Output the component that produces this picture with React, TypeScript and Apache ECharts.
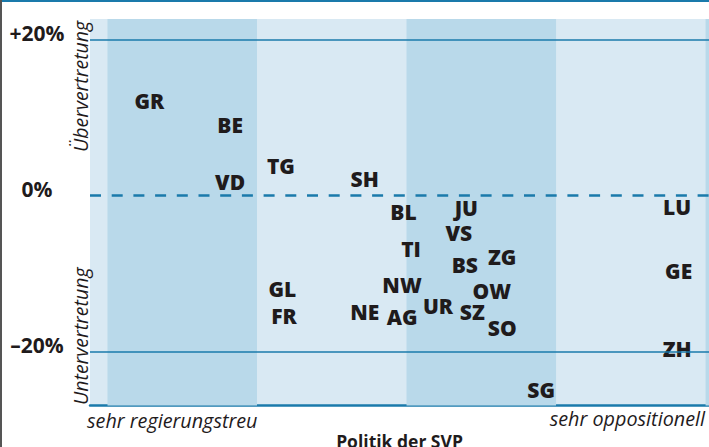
import React, { useEffect, useRef } from "react";
import * as echarts from "echarts";

// Kantone und ihre Position: x = Politik der SVP (Skala), y = Über-/Untervertretung in %
const kantone = ["GR", "BE", "VD", "TG", "SH", "BL", "JU", "LU", "VS", "TI", "BS", "ZG", "GE", "NW", "OW", "NE", "AG", "UR", "SZ", "SO", "ZH", "SG", "GL", "FR"];
const politik = [0.78, 1.32, 1.32, 1.66, 2.22, 2.48, 2.9, 4.31, 2.85, 2.53, 2.89, 3.14, 4.32, 2.47, 3.07, 2.22, 2.47, 2.71, 2.94, 3.14, 4.31, 3.4, 1.67, 1.68];
const vertretung = [12.16, 9.01, 1.82, 3.75, 2.08, -2.09, -1.58, -1.45, -4.85, -6.84, -8.9, -7.87, -9.73, -11.46, -12.17, -14.93, -15.51, -14.1, -14.93, -16.92, -19.74, -24.88, -12.04, -15.38];

const yTicks = [20, 0, -20];
const yTickLabels = ["+20%", "0%", "–20%"];
const dunkleBaender: [number, number][] = [[0.5, 1.5], [2.5, 3.5], [4.5, 4.523]];
const skalaEnden = ["sehr regierungstreu", "sehr oppositionell"];
const achsenNamen = ["Übervertretung", "Untervertretung"];
const xTitel = "Politik der SVP";

const X_MIN = 0.383;
const X_MAX = 4.523;
const Y_MIN = -26.93;
const Y_MAX = 22.68;

const LINE = "#1a7aab";
const TEXT = "#1f1b1c";
const FONT = "'Open Sans', 'Noto Sans', sans-serif";

export default function App() {
  const ref = useRef<HTMLDivElement>(null);
  useEffect(() => {
    document.body.style.margin = "0";
    if (!ref.current) return;
    const chart = echarts.init(ref.current, null, { renderer: "svg" });
    const data = kantone.map((k, i) => [politik[i], vertretung[i], k]);
    chart.setOption({
      animation: false,
      grid: {
        left: 90,
        right: 0,
        top: 19,
        bottom: 41.5,
        show: true,
        containLabel: false,
        outerBoundsMode: "none",
        backgroundColor: "#d9e9f3",
        borderWidth: 0,
      },
      xAxis: {
        type: "value",
        min: X_MIN,
        max: X_MAX,
        axisLine: { show: true, onZero: false, lineStyle: { color: LINE, width: 2.5 } },
        axisTick: { show: false },
        axisLabel: { show: false },
        splitLine: { show: false },
        name: xTitel,
        nameLocation: "middle",
        nameGap: 26,
        nameTextStyle: { fontFamily: FONT, fontWeight: "bold", fontSize: 17.5, color: TEXT, verticalAlign: "top" },
      },
      yAxis: {
        type: "value",
        min: Y_MIN,
        max: Y_MAX,
        axisLine: { show: false },
        axisTick: { show: false },
        splitLine: { show: false },
        axisLabel: {
          customValues: yTicks,
          formatter: (v: number) => yTickLabels[yTicks.indexOf(v)] ?? "",
          fontFamily: FONT,
          fontWeight: "bold",
          fontSize: 21,
          color: TEXT,
          margin: 53,
          align: "center",
          verticalAlign: "bottom",
          lineHeight: 14,
        },
      },
      graphic: [
        { type: "rect", shape: { x: 0, y: 0, width: 709, height: 2 }, style: { fill: LINE }, z: 100 },
        { type: "rect", shape: { x: 0, y: 0, width: 2, height: 447 }, style: { fill: "#555" }, z: 100 },
        {
          type: "text",
          x: 90,
          y: 152,
          rotation: Math.PI / 2,
          style: { text: achsenNamen[0], font: `italic 19.5px ${FONT}`, fill: TEXT, textAlign: "left", textVerticalAlign: "bottom" },
          z: 100,
        },
        {
          type: "text",
          x: 90,
          y: 405,
          rotation: Math.PI / 2,
          style: { text: achsenNamen[1], font: `italic 19.5px ${FONT}`, fill: TEXT, textAlign: "left", textVerticalAlign: "bottom" },
          z: 100,
        },
        {
          type: "text",
          x: 87,
          y: 420,
          style: { text: skalaEnden[0], font: `italic 19.8px ${FONT}`, fill: TEXT, textAlign: "left", textVerticalAlign: "middle" },
        },
        {
          type: "text",
          x: 705,
          y: 418,
          style: { text: skalaEnden[1], font: `italic 19.8px ${FONT}`, fill: TEXT, textAlign: "right", textVerticalAlign: "middle" },
        },
      ],
      series: [
        {
          type: "scatter",
          data,
          symbolSize: 0,
          clip: false,
          itemStyle: { opacity: 1 },
          label: {
            show: true,
            position: "inside",
            formatter: (p: any) => p.data[2],
            fontFamily: FONT,
            fontWeight: 800,
            fontSize: 21,
            color: TEXT,
            opacity: 1,
          },
          markArea: {
            silent: true,
            itemStyle: { color: "#b9d9ea", opacity: 1 },
            data: dunkleBaender.map(([a, b]) => [{ xAxis: a }, { xAxis: b }]),
          },
          markLine: {
            silent: true,
            symbol: "none",
            label: { show: false },
            data: [
              { yAxis: yTicks[0], lineStyle: { color: LINE, width: 1.5, type: "solid", opacity: 1 } },
              { yAxis: yTicks[1], lineStyle: { color: LINE, width: 2.5, type: [11, 10.7], opacity: 1 } },
              { yAxis: yTicks[2], lineStyle: { color: LINE, width: 1.5, type: "solid", opacity: 1 } },
            ],
          },
        },
      ],
    });
    return () => chart.dispose();
  }, []);
  return <div ref={ref} style={{ width: 709, height: 447 }} />;
}
